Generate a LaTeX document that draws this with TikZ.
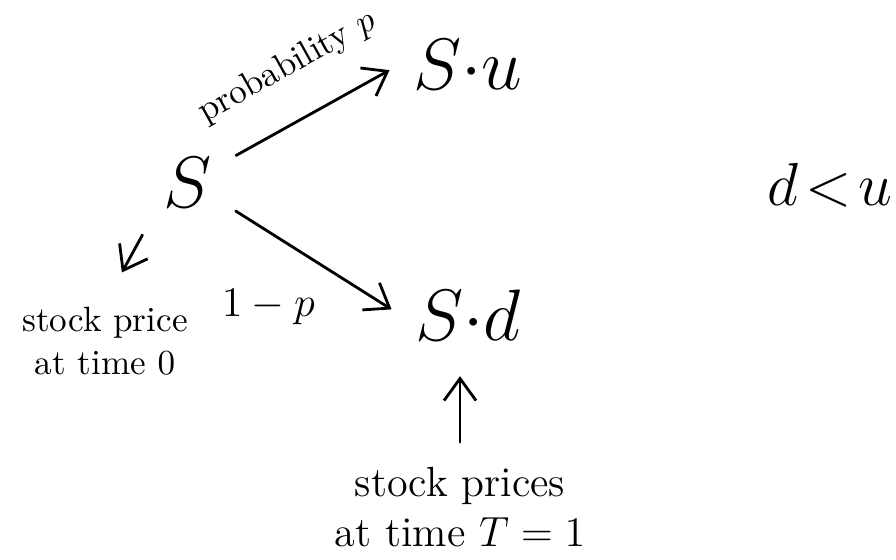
\documentclass[tikz,border=0pt]{standalone}
\usepackage{amsmath, amssymb}
\usepackage{xcolor}
\usepackage{tikz}
\usetikzlibrary{positioning, arrows.meta, calc}

\begin{document}
\begin{tikzpicture}[
        price/.style={inner sep=4pt, font=\fontsize{20}{24}\selectfont},
        note/.style={align=center, font=\large, inner sep=1pt},
        lbl/.style={font=\normalsize, inner sep=2pt},
        arr/.style={-{Straight Barb[length=2.2mm, width=3.2mm]}, thick, line cap=round}
    ]
        \useasboundingbox (0,0) rectangle (8.96,5.59);

        % Stock prices
        \node[price] (S) at (1.88,3.76) {$S$};
        \node[price] (Su) at (4.68,4.94) {$S{\cdot}u$};
        \node[price] (Sd) at (4.68,2.44) {$S{\cdot}d$};
        \node[price, inner sep=0pt, font=\fontsize{18}{22}\selectfont] (du) at (8.30,3.74)
            {$d\mkern2mu{<}\mkern2mu u$};

        % Notes
        \node[note, font=\normalsize] (t0) at (1.05,2.18) {stock price\\at time $0$};
        \node[note] (t1) at (4.60,0.52) {stock prices\\at time $T=1$};

        % Arrows: branches
        \draw[arr, shorten <=3pt, shorten >=3pt] (S.30) -- (Su.west)
            node[lbl, midway, sloped, above=8pt] (pu) {probability $p$};
        \draw[arr, shorten <=3pt, shorten >=3pt] (S.-30) -- (Sd.west)
            node[lbl, font=\large, pos=0.3, below=12pt, xshift=-3pt] (pd) {$1-p$};

        % Arrows: notes
        \draw[arr, shorten <=4pt, shorten >=10pt] (S.south west) -- (t0.north);
        \draw[arr, shorten <=6pt, shorten >=6pt] (t1.north) -- (t1.north |- Sd.south);
    \end{tikzpicture}
\end{document}
